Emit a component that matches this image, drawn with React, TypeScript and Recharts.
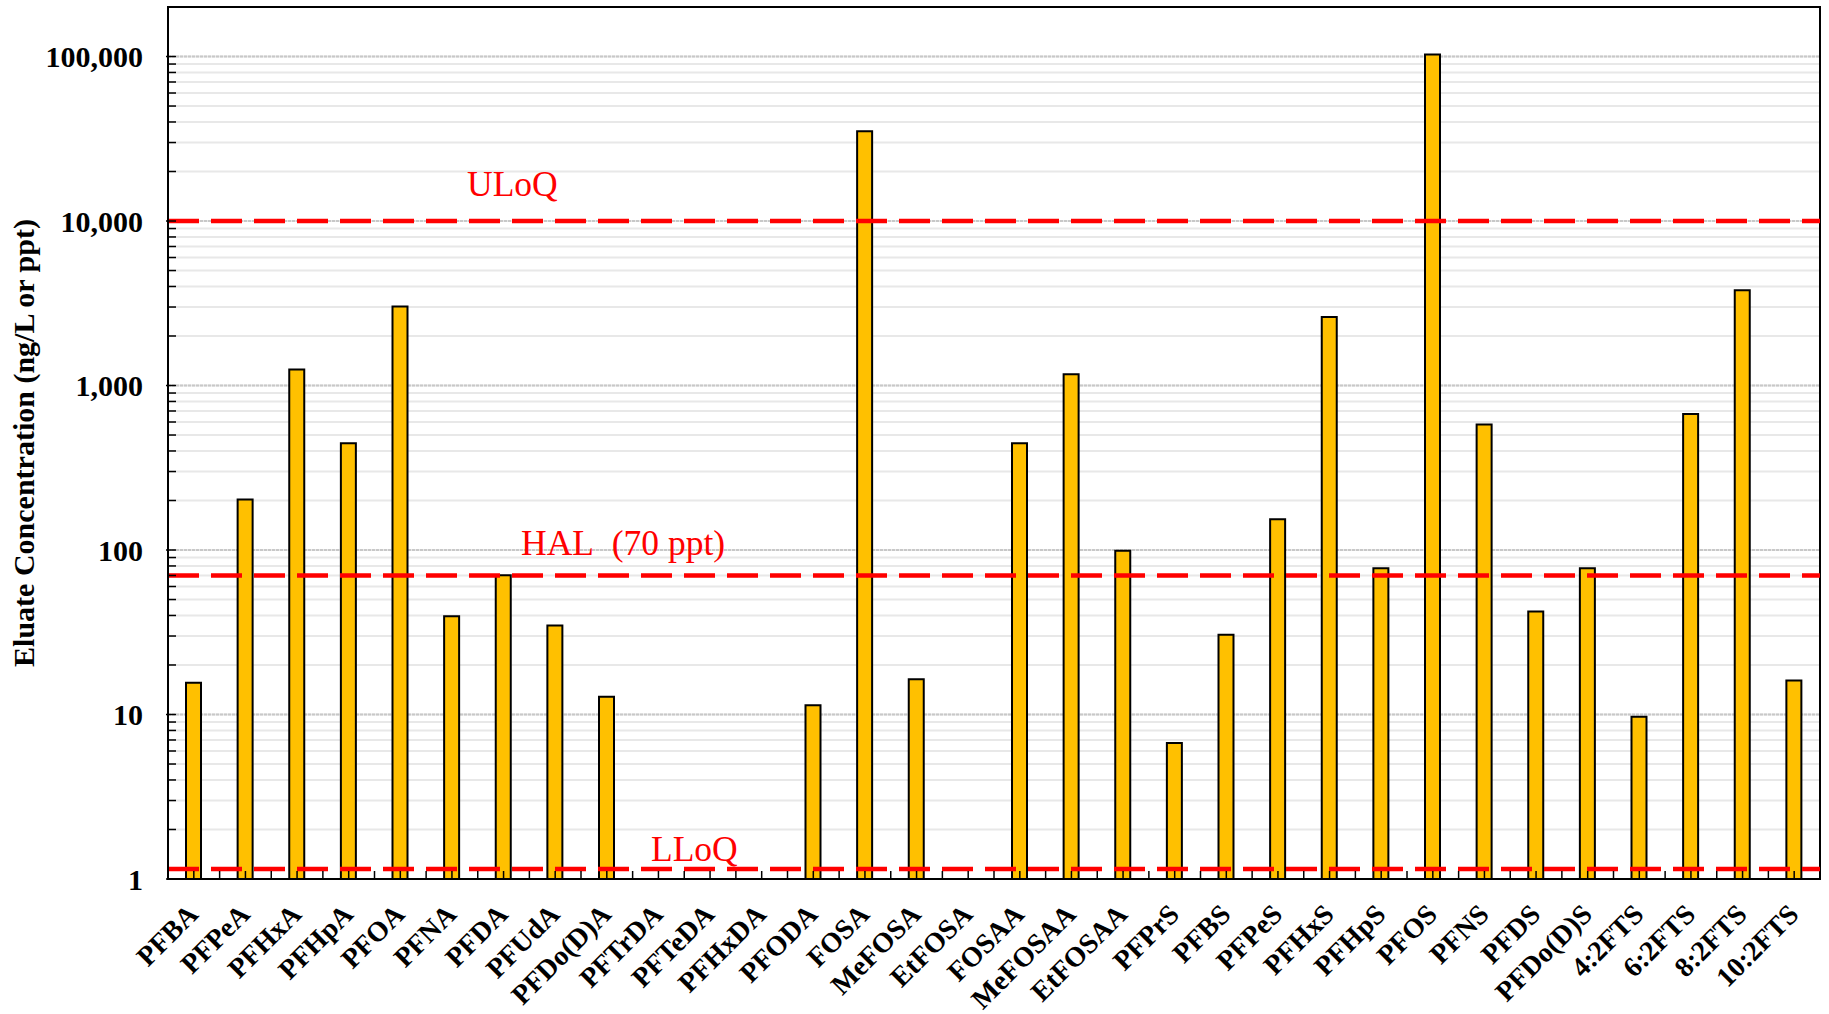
import { BarChart, Bar, XAxis, YAxis, CartesianGrid, ReferenceLine, ReferenceArea } from 'recharts'

// ─── Data ────────────────────────────────────────────────────────────────
const CATEGORIES = [
  'PFBA', 'PFPeA', 'PFHxA', 'PFHpA', 'PFOA', 'PFNA', 'PFDA', 'PFUdA', 'PFDo(D)A',
  'PFTrDA', 'PFTeDA', 'PFHxDA', 'PFODA', 'FOSA', 'MeFOSA', 'EtFOSA', 'FOSAA',
  'MeFOSAA', 'EtFOSAA', 'PFPrS', 'PFBS', 'PFPeS', 'PFHxS', 'PFHpS', 'PFOS', 'PFNS',
  'PFDS', 'PFDo(D)S', '4:2FTS', '6:2FTS', '8:2FTS', '10:2FTS',
]

// eluate concentration, ng/L (null = not detected)
const CONCENTRATIONS: (number | null)[] = [
  15.6, 203, 1250, 446, 3020, 39.6, 70.3, 34.8, 12.8,
  null, null, null, 11.4, 35100, 16.4, null, 446,
  1170, 99, 6.7, 30.5, 154, 2610, 77.5, 103000, 579,
  42.3, 77.5, 9.7, 671, 3800, 16.1,
]

const Y_DECADES = [1, 10, 100, 1000, 10000, 100000]
const Y_MULTIPLIERS = [1, 2, 3, 4, 5, 6, 7, 8, 9]
const Y_DOMAIN = [1, 200000]

const ULOQ = 10000
const HAL = 70
const LLOQ = 1.15

// ─── Derived ─────────────────────────────────────────────────────────────
const Y_TICKS = Y_DECADES.flatMap((d) =>
  d === 100000 ? [d] : Y_MULTIPLIERS.map((m) => m * d),
)
const data = CATEGORIES.map((name, i) => ({ name, value: CONCENTRATIONS[i] }))

const FONT = '"Liberation Serif", "Times New Roman", serif'
const RED = '#FF0000'

function renderXTick(props: any) {
  const { x, y, payload } = props
  const half = payload?.offset ?? 25.8
  const tx = x + 6
  const ty = y + 37
  return (
    <g>
      <line x1={x} y1={y} x2={x} y2={y - 8} stroke="#000" strokeWidth={1.5} />
      <line x1={x - half} y1={y} x2={x - half} y2={y - 8} stroke="#000" strokeWidth={1.5} />
      <text
        x={tx}
        y={ty}
        transform={`rotate(-45, ${tx}, ${ty})`}
        textAnchor="end"
        fontFamily={FONT}
        fontWeight="bold"
        fontSize={28}
        fill="#000"
      >
        {payload.value}
      </text>
    </g>
  )
}

function renderYTick(props: any) {
  const { x, y, payload } = props
  const isMajor = Y_DECADES.includes(payload.value)
  return (
    <g>
      <line x1={x - (isMajor ? 2 : 0)} y1={y} x2={x + 8} y2={y} stroke="#000" strokeWidth={1.5} />
      {isMajor && (
        <text
          x={x - 25}
          y={y}
          dy="0.35em"
          textAnchor="end"
          fontFamily={FONT}
          fontWeight="bold"
          fontSize={30}
          fill="#000"
        >
          {payload.value.toLocaleString('en-US')}
        </text>
      )}
    </g>
  )
}

function renderYLabel(props: any) {
  const { viewBox } = props
  const cx = viewBox.x + 23
  const cy = viewBox.y + viewBox.height / 2
  return (
    <text
      x={cx}
      y={cy}
      transform={`rotate(-90, ${cx}, ${cy})`}
      textAnchor="middle"
      dominantBaseline="central"
      fontFamily={FONT}
      fontWeight="bold"
      fontSize={30}
      fill="#000"
    >
      Eluate Concentration (ng/L or ppt)
    </text>
  )
}

function limitLabel(text: string, dx: number, dy: number) {
  return (props: any) => {
    const { viewBox } = props
    return (
      <text
        x={viewBox.x + dx}
        y={viewBox.y - dy}
        fontFamily={FONT}
        fontSize={35.5}
        fill={RED}
        style={{ whiteSpace: 'pre' }}
      >
        {text}
      </text>
    )
  }
}

export default function App() {
  return (
    <div style={{ width: 1829, height: 1014, background: '#fff' }}>
      <style>{'body { margin: 0; }'}</style>
      <BarChart
        width={1829}
        height={1014}
        data={data}
        margin={{ top: 7, right: 9, bottom: 0, left: 0 }}
      >
        <CartesianGrid vertical={false} horizontalValues={Y_TICKS} stroke="#e8e8e8" strokeWidth={2} />
        <CartesianGrid
          vertical={false}
          horizontalValues={Y_DECADES}
          stroke="#c8c8c8"
          strokeDasharray="3 1"
          strokeWidth={2}
        />
        <XAxis
          dataKey="name"
          interval={0}
          height={135}
          tickSize={0}
          tickMargin={0}
          tickLine={false}
          axisLine={{ stroke: '#000', strokeWidth: 2 }}
          tick={renderXTick}
        />
        <YAxis
          type="number"
          scale="log"
          domain={Y_DOMAIN}
          ticks={Y_TICKS}
          allowDataOverflow
          interval={0}
          width={168}
          tickSize={0}
          tickMargin={0}
          tickLine={false}
          axisLine={{ stroke: '#000', strokeWidth: 2 }}
          tick={renderYTick}
          label={{ content: renderYLabel }}
        />
        <Bar
          dataKey="value"
          fill="#FFC000"
          stroke="#000"
          strokeWidth={2}
          barSize={15}
          isAnimationActive={false}
        />
        <ReferenceLine
          y={ULOQ}
          stroke={RED}
          strokeWidth={4.5}
          strokeDasharray="31 12"
          label={{ content: limitLabel('ULoQ', 299, 25) }}
        />
        <ReferenceLine
          y={HAL}
          stroke={RED}
          strokeWidth={4.5}
          strokeDasharray="31 12"
          label={{ content: limitLabel('HAL\u00a0 (70 ppt)', 353, 20) }}
        />
        <ReferenceLine
          y={LLOQ}
          stroke={RED}
          strokeWidth={4.5}
          strokeDasharray="31 12"
          label={{ content: limitLabel('LLoQ', 483, 8) }}
        />
        {/* plot frame */}
        <ReferenceArea
          x1={CATEGORIES[0]}
          x2={CATEGORIES[CATEGORIES.length - 1]}
          y1={Y_DOMAIN[0]}
          y2={Y_DOMAIN[1]}
          fill="none"
          stroke="#000"
          strokeWidth={2}
          ifOverflow="visible"
        />
      </BarChart>
    </div>
  )
}
